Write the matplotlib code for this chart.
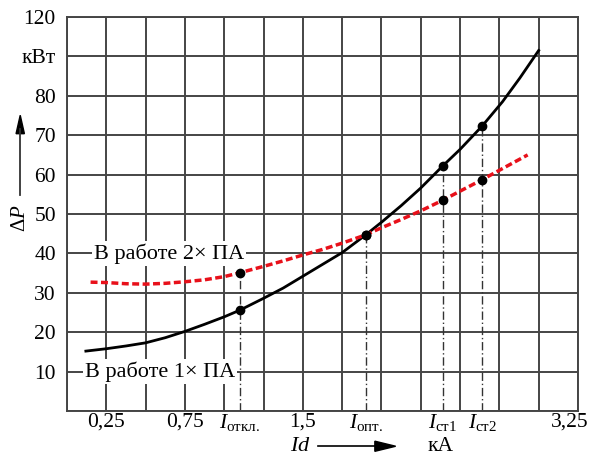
import matplotlib.pyplot as plt
import matplotlib.transforms as mtransforms

plt.rcParams['font.family'] = ['Liberation Serif', 'DejaVu Serif']
plt.rcParams['mathtext.fontset'] = 'custom'
plt.rcParams['mathtext.rm'] = 'Liberation Serif'
plt.rcParams['mathtext.it'] = 'Liberation Serif:italic'

# кривая 1x ПА (сплошная чёрная)
x_one = [0.12, 0.25, 0.375, 0.5, 0.625, 0.75, 0.875, 1.0, 1.1, 1.25, 1.375, 1.5, 1.625, 1.75,
         1.9, 2.0, 2.125, 2.25, 2.39, 2.5, 2.64, 2.77, 2.88, 3.0]
p_one = [15.2, 15.8, 16.5, 17.3, 18.6, 20.2, 22.0, 23.9, 25.6, 28.6, 31.2, 34.2, 37.2, 40.2,
         44.7, 47.9, 52.1, 56.6, 62.2, 66.4, 72.3, 78.5, 84.5, 91.5]

# кривая 2x ПА (красная пунктирная)
x_two = [0.15, 0.25, 0.375, 0.5, 0.625, 0.75, 0.875, 1.0, 1.1, 1.25, 1.375, 1.5, 1.625, 1.75,
         1.9, 2.0, 2.125, 2.25, 2.39, 2.5, 2.64, 2.75, 2.93]
p_two = [32.7, 32.6, 32.3, 32.2, 32.4, 32.8, 33.3, 34.1, 35.1, 36.7, 38.1, 39.6, 41.0, 42.6,
         44.7, 46.5, 48.6, 50.8, 53.5, 55.8, 58.7, 61.1, 65.0]

# характерные токи
i_names = ['откл.', 'опт.', 'ст1', 'ст2']
i_vals = [1.10, 1.90, 2.39, 2.64]
dots_one = [25.6, 44.7, 62.2, 72.3]
dots_two = [35.1, 44.7, 53.5, 58.7]

fig = plt.figure(figsize=(5.95, 4.61), dpi=100)
ax = fig.add_axes([0.1126, 0.1085, 0.8588, 0.8546])

grid_c = '#454545'
for k in range(14):
    ax.axvline(k * 0.25, color=grid_c, lw=1.4, zorder=1)
for k in range(11):
    ax.axhline(k * 10, color=grid_c, lw=1.4, zorder=1)
for s in ax.spines.values():
    s.set_color(grid_c)
    s.set_linewidth(1.4)

ax.set_xlim(0, 3.25)
ax.set_ylim(0, 100)

# вертикальные штрих-пунктирные линии
for xi, a, b in zip(i_vals, dots_one, dots_two):
    ax.plot([xi, xi], [0, max(a, b)], color='#333333', lw=1.0,
            linestyle=(0, (6, 2, 1, 2)), zorder=2)

ax.plot(x_one, p_one, color='black', lw=2.0, zorder=3, solid_joinstyle='round')
ax.plot(x_two, p_two, color='#e8101a', lw=2.5, linestyle=(0, (2.0, 1.0)), zorder=3)
ax.plot(i_vals, dots_one, 'o', color='black', ms=6, zorder=4)
ax.plot(i_vals, dots_two, 'o', color='black', ms=6, zorder=4)

bbox = dict(facecolor='white', edgecolor='none', pad=1.5)
ax.text(0.17, 40, 'В работе 2× ПА', fontsize=16, va='center', ha='left', bbox=bbox, zorder=5)
ax.text(0.115, 10, 'В работе 1× ПА', fontsize=16, va='center', ha='left', bbox=bbox, zorder=5)

# подписи осей
x_ticks = [0.25, 0.75, 1.5, 3.25] + i_vals
x_labels = ['0,25', '0,75', '1,5', '3,25'] + [r'$I_{\mathrm{%s}}$' % n for n in i_names]
ax.set_xticks(x_ticks)
ax.set_xticklabels(x_labels, fontsize=15.5)
ax.tick_params(axis='x', length=0, pad=1)
# последнюю подпись чуть влево, чтобы не обрезалась
last = ax.get_xticklabels()[3]
last.set_transform(last.get_transform() + mtransforms.ScaledTranslation(-6 / 72, 0, fig.dpi_scale_trans))

y_ticks = [10, 20, 30, 40, 50, 60, 70, 80, 90, 100]
y_labels = ['10', '20', '30', '40', '50', '60', '70', '80', 'кВт', '120']
ax.set_yticks(y_ticks)
ax.set_yticklabels(y_labels, fontsize=15.5)
ax.tick_params(axis='y', length=0, pad=8)

fig.text(0.034, 0.527, r'$\Delta P$', fontsize=15, rotation=90, ha='center', va='center')
fig.add_artist(plt.Line2D([0.034, 0.034], [0.577, 0.72], color='#333333', lw=1.3))
fig.patches.append(plt.Polygon([[0.027, 0.71], [0.041, 0.71], [0.034, 0.75]],
                               closed=True, color='black', transform=fig.transFigure))

y_row = 0.032
fig.text(0.505, y_row, r'$Id$', fontsize=16, ha='center', va='center')
fig.add_artist(plt.Line2D([0.535, 0.645], [y_row, y_row], color='black', lw=1.2))
fig.patches.append(plt.Polygon([[0.63, y_row - 0.011], [0.63, y_row + 0.011], [0.665, y_row]],
                               closed=True, color='black', transform=fig.transFigure))
fig.text(0.74, y_row, 'кА', fontsize=15.5, ha='center', va='center')

fig.savefig('out.png', dpi=100)
